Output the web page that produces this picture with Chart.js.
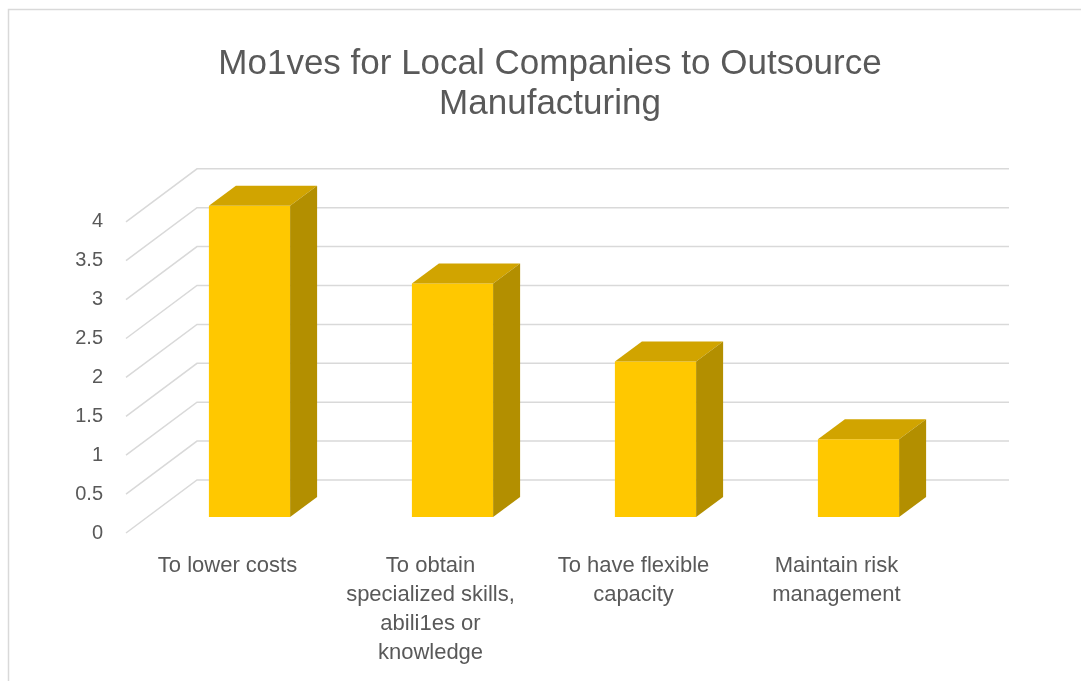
<!DOCTYPE html>
<html>
<head>
<meta charset="utf-8">
<style>
  html, body { margin: 0; padding: 0; background: #ffffff; }
  canvas { display: block; }
</style>
<script src="https://cdn.jsdelivr.net/npm/chart.js@4/dist/chart.umd.min.js"></script>
</head>
<body>
<canvas id="motivesChart" width="1081" height="681"></canvas>
<script>
// Chart data
const categories = [
  ['To lower costs'],
  ['To obtain', 'specialized skills,', 'abili1es or', 'knowledge'],
  ['To have flexible', 'capacity'],
  ['Maintain risk', 'management']
];
const values = [4, 3, 2, 1];
const titleLines = ['Mo1ves for Local Companies to Outsource', 'Manufacturing'];

// 3D look (pixel offsets for depth)
const WALL = { dx: 49, dy: -37 };   // back wall relative to bar front plane
const FLOOR = { dx: -22, dy: 16 };  // front edge of floor
const DEPTH = { dx: 27, dy: -20 };  // bar depth
const FRONT = '#ffc800';
const TOP = '#d1a400';
const SIDE = '#b38f00';
const GRID = '#d9d9d9';
const TEXT = '#595959';
const FONT = '"Liberation Sans", Arial, sans-serif';

const frame = {
  id: 'frame',
  beforeDraw(chart) {
    const ctx = chart.ctx;
    ctx.save();
    ctx.fillStyle = '#ffffff';
    ctx.fillRect(0, 0, chart.width, chart.height);
    ctx.strokeStyle = '#d9d9d9';
    ctx.lineWidth = 1.5;
    ctx.beginPath();
    ctx.moveTo(8.5, chart.height + 2);
    ctx.lineTo(8.5, 9.5);
    ctx.lineTo(chart.width + 2, 9.5);
    ctx.stroke();
    ctx.restore();
  }
};

const walls = {
  id: 'walls',
  beforeDatasetsDraw(chart) {
    const { ctx, chartArea } = chart;
    const y = chart.scales.y;
    ctx.save();
    ctx.strokeStyle = GRID;
    ctx.lineWidth = 1.5;
    y.ticks.forEach(t => {
      const py = y.getPixelForValue(t.value);
      ctx.beginPath();
      ctx.moveTo(chartArea.left + FLOOR.dx, py + FLOOR.dy);
      ctx.lineTo(chartArea.left + WALL.dx, py + WALL.dy);
      ctx.lineTo(chartArea.right + WALL.dx, py + WALL.dy);
      ctx.stroke();
    });
    ctx.restore();
  },
  afterDatasetsDraw(chart) {
    const ctx = chart.ctx;
    const meta = chart.getDatasetMeta(0);
    ctx.save();
    meta.data.forEach(bar => {
      const l = bar.x - bar.width / 2;
      const r = bar.x + bar.width / 2;
      const top = bar.y;
      const base = bar.base;
      // top face
      ctx.fillStyle = TOP;
      ctx.beginPath();
      ctx.moveTo(l, top);
      ctx.lineTo(r, top);
      ctx.lineTo(r + DEPTH.dx, top + DEPTH.dy);
      ctx.lineTo(l + DEPTH.dx, top + DEPTH.dy);
      ctx.closePath();
      ctx.fill();
      // side face
      ctx.fillStyle = SIDE;
      ctx.beginPath();
      ctx.moveTo(r, top);
      ctx.lineTo(r + DEPTH.dx, top + DEPTH.dy);
      ctx.lineTo(r + DEPTH.dx, base + DEPTH.dy);
      ctx.lineTo(r, base);
      ctx.closePath();
      ctx.fill();
    });
    ctx.restore();
  }
};

new Chart(document.getElementById('motivesChart'), {
  type: 'bar',
  data: {
    labels: categories,
    datasets: [{
      data: values,
      backgroundColor: FRONT,
      borderWidth: 0,
      barPercentage: 0.4,
      categoryPercentage: 1
    }]
  },
  options: {
    responsive: false,
    animation: false,
    layout: { padding: { top: 0, right: 0, bottom: 0, left: 19 } },
    plugins: {
      legend: { display: false },
      tooltip: { enabled: false },
      title: {
        display: true,
        text: titleLines,
        color: TEXT,
        font: { family: FONT, size: 35, weight: 'normal', lineHeight: 1.14 },
        padding: { top: 44, bottom: 82 }
      }
    },
    scales: {
      x: {
        grid: { display: false, drawTicks: false },
        border: { display: false },
        ticks: {
          color: TEXT,
          font: { family: FONT, size: 22, lineHeight: 1.32 },
          padding: 34,
          labelOffset: FLOOR.dx,
          maxRotation: 0,
          autoSkip: false
        },
        afterFit(scale) { scale.height = 164; }
      },
      y: {
        min: 0,
        max: 4,
        grid: { display: false, drawTicks: false },
        border: { display: false },
        ticks: {
          stepSize: 0.5,
          color: TEXT,
          font: { family: FONT, size: 20 },
          padding: 45,
          labelOffset: FLOOR.dy,
          callback: v => v
        },
        afterFit(scale) { scale.width = 129; }
      },
      // empty right-hand axis, keeps room for the back wall
      yRight: {
        type: 'linear',
        position: 'right',
        grid: { display: false, drawTicks: false },
        border: { display: false },
        ticks: { display: false },
        afterFit(scale) { scale.width = 121; }
      }
    }
  },
  plugins: [frame, walls]
});
</script>
</body>
</html>
